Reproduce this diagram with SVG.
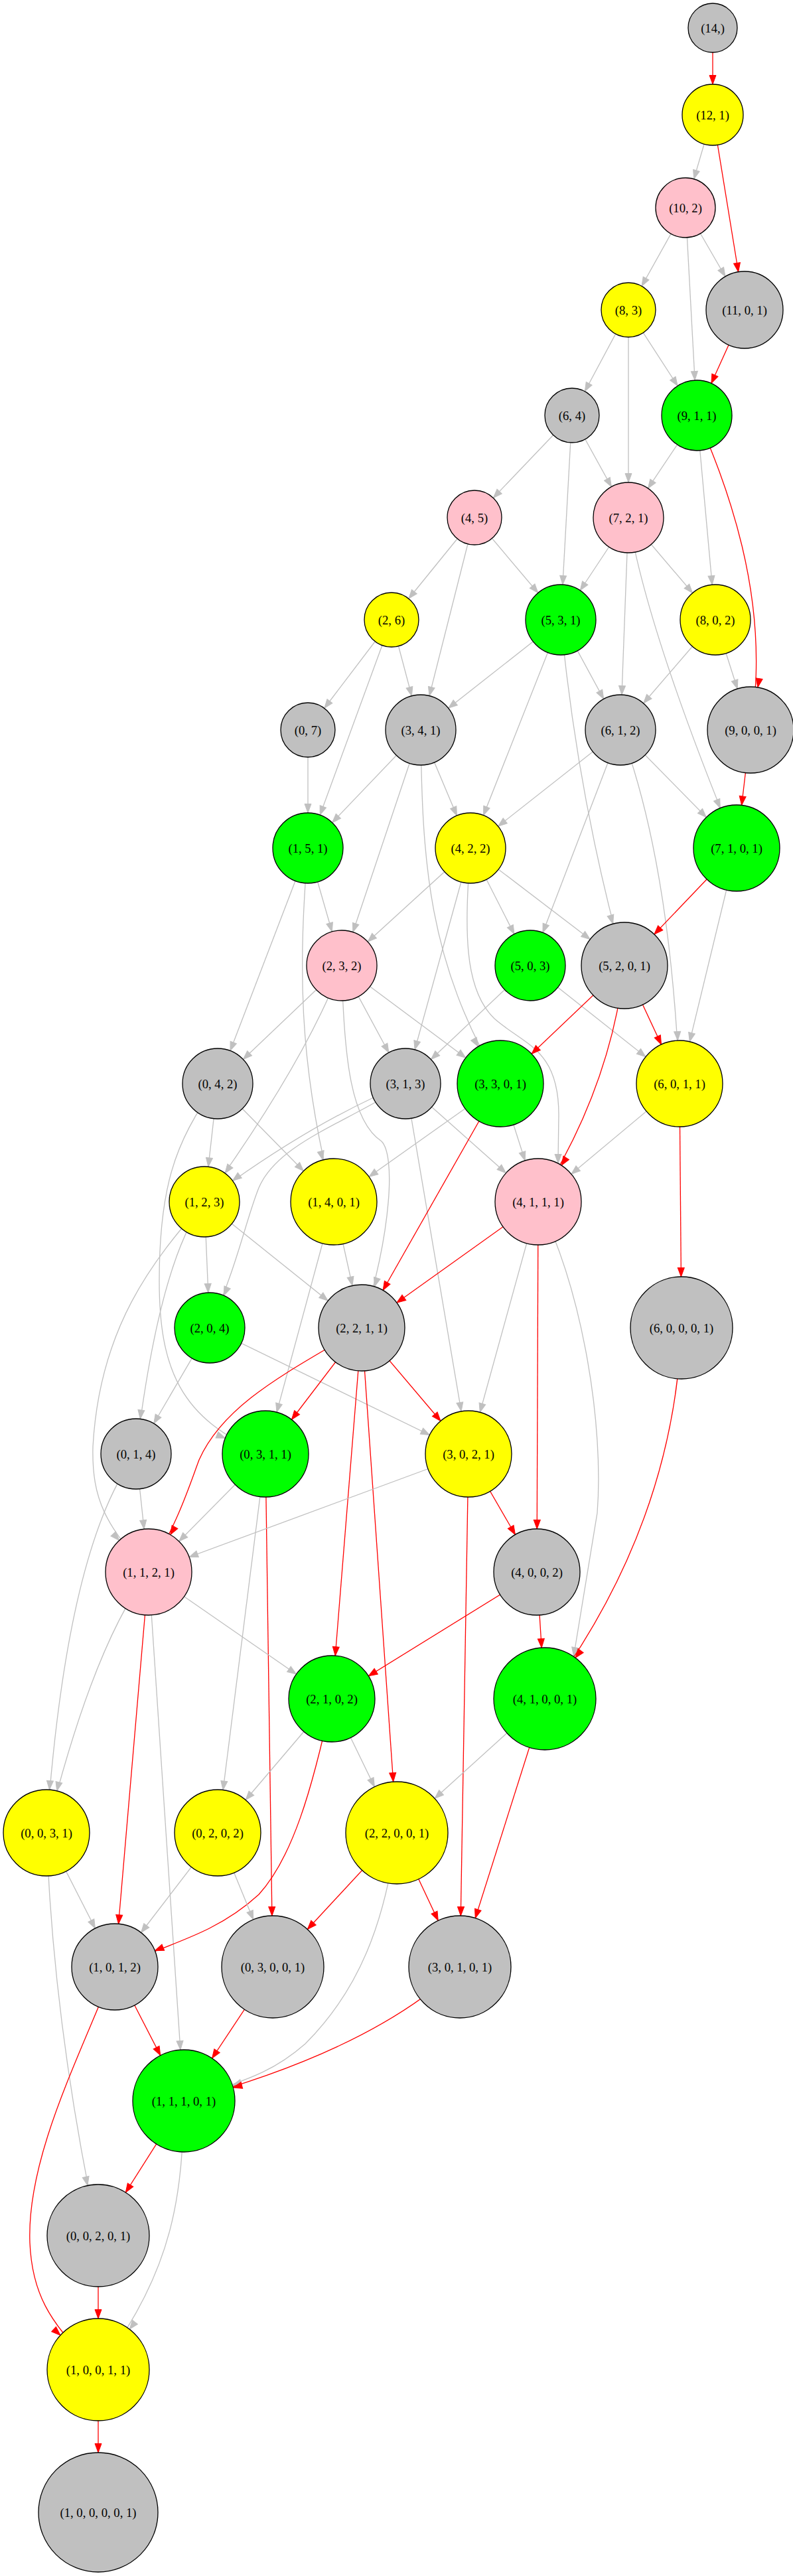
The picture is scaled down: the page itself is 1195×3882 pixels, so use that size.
<svg xmlns="http://www.w3.org/2000/svg" width="1195" height="3882" viewBox="0 0 1195 3882">
<style>
.e{fill:none;stroke-width:1.3}
.g{stroke:#c0c0c0}
.r{stroke:#ff0000}
.ag{fill:#c0c0c0;stroke:#c0c0c0;stroke-width:1}
.ar{fill:#ff0000;stroke:#ff0000;stroke-width:1}
.n{stroke:#000;stroke-width:1.3}
.gy{fill:#c0c0c0}.yl{fill:#ffff00}.pk{fill:#ffc0cb}.gn{fill:#00ff00}
text{font-family:"Liberation Serif","Times New Roman",serif;font-size:18.67px;text-anchor:middle;fill:#000}
</style>
<defs>
<marker id="g41" markerWidth="20" markerHeight="12" refX="55.5" refY="6" orient="auto" markerUnits="userSpaceOnUse"><path class="ag" d="M1,1 L14.5,6 L1,11 Z"/></marker>
<marker id="g45" markerWidth="20" markerHeight="12" refX="59.5" refY="6" orient="auto" markerUnits="userSpaceOnUse"><path class="ag" d="M1,1 L14.5,6 L1,11 Z"/></marker>
<marker id="g53" markerWidth="20" markerHeight="12" refX="67.5" refY="6" orient="auto" markerUnits="userSpaceOnUse"><path class="ag" d="M1,1 L14.5,6 L1,11 Z"/></marker>
<marker id="g58" markerWidth="20" markerHeight="12" refX="72.5" refY="6" orient="auto" markerUnits="userSpaceOnUse"><path class="ag" d="M1,1 L14.5,6 L1,11 Z"/></marker>
<marker id="g65" markerWidth="20" markerHeight="12" refX="79.5" refY="6" orient="auto" markerUnits="userSpaceOnUse"><path class="ag" d="M1,1 L14.5,6 L1,11 Z"/></marker>
<marker id="g77" markerWidth="20" markerHeight="12" refX="91.5" refY="6" orient="auto" markerUnits="userSpaceOnUse"><path class="ag" d="M1,1 L14.5,6 L1,11 Z"/></marker>
<marker id="r46" markerWidth="20" markerHeight="12" refX="60.5" refY="6" orient="auto" markerUnits="userSpaceOnUse"><path class="ar" d="M1,1 L14.5,6 L1,11 Z"/></marker>
<marker id="r53" markerWidth="20" markerHeight="12" refX="67.5" refY="6" orient="auto" markerUnits="userSpaceOnUse"><path class="ar" d="M1,1 L14.5,6 L1,11 Z"/></marker>
<marker id="r58" markerWidth="20" markerHeight="12" refX="72.5" refY="6" orient="auto" markerUnits="userSpaceOnUse"><path class="ar" d="M1,1 L14.5,6 L1,11 Z"/></marker>
<marker id="r65" markerWidth="20" markerHeight="12" refX="79.5" refY="6" orient="auto" markerUnits="userSpaceOnUse"><path class="ar" d="M1,1 L14.5,6 L1,11 Z"/></marker>
<marker id="r77" markerWidth="20" markerHeight="12" refX="91.5" refY="6" orient="auto" markerUnits="userSpaceOnUse"><path class="ar" d="M1,1 L14.5,6 L1,11 Z"/></marker>
<marker id="r90" markerWidth="20" markerHeight="12" refX="104.5" refY="6" orient="auto" markerUnits="userSpaceOnUse"><path class="ar" d="M1,1 L14.5,6 L1,11 Z"/></marker>
</defs>
<rect width="1195" height="3882" fill="#fff"/>
<g id="edges">
<path class="e r" marker-end="url(#r46)" d="M1074,42 L1074,173"/>
<path class="e g" marker-end="url(#g45)" d="M1074,173 L1033,313"/>
<path class="e r" marker-end="url(#r58)" d="M1074,173 L1122,467"/>
<path class="e g" marker-end="url(#g41)" d="M1033,313 L947,467"/>
<path class="e g" marker-end="url(#g53)" d="M1033,313 L1050,626"/>
<path class="e g" marker-end="url(#g58)" d="M1033,313 L1122,467"/>
<path class="e r" marker-end="url(#r53)" d="M1122,467 L1050,626"/>
<path class="e g" marker-end="url(#g41)" d="M947,467 L862,626"/>
<path class="e g" marker-end="url(#g53)" d="M947,467 L947,780"/>
<path class="e g" marker-end="url(#g53)" d="M947,467 L1050,626"/>
<path class="e g" marker-end="url(#g41)" d="M862,626 L715,780"/>
<path class="e g" marker-end="url(#g53)" d="M862,626 L845,934"/>
<path class="e g" marker-end="url(#g53)" d="M862,626 L947,780"/>
<path class="e g" marker-end="url(#g53)" d="M1050,626 L947,780"/>
<path class="e g" marker-end="url(#g53)" d="M1050,626 L1078,934"/>
<path class="e r" marker-end="url(#r65)" d="M1050,626 C1090,720 1165,900 1131,1100"/>
<path class="e g" marker-end="url(#g41)" d="M715,780 L590,934"/>
<path class="e g" marker-end="url(#g53)" d="M715,780 L634,1100"/>
<path class="e g" marker-end="url(#g53)" d="M715,780 L845,934"/>
<path class="e g" marker-end="url(#g53)" d="M947,780 L845,934"/>
<path class="e g" marker-end="url(#g53)" d="M947,780 L935,1100"/>
<path class="e g" marker-end="url(#g65)" d="M947,780 Q975,950 1110,1278"/>
<path class="e g" marker-end="url(#g53)" d="M947,780 L1078,934"/>
<path class="e g" marker-end="url(#g41)" d="M590,934 L464,1100"/>
<path class="e g" marker-end="url(#g53)" d="M590,934 L464,1278"/>
<path class="e g" marker-end="url(#g53)" d="M590,934 L634,1100"/>
<path class="e g" marker-end="url(#g53)" d="M845,934 L634,1100"/>
<path class="e g" marker-end="url(#g53)" d="M845,934 L709,1278"/>
<path class="e g" marker-end="url(#g53)" d="M845,934 L935,1100"/>
<path class="e g" marker-end="url(#g65)" d="M845,934 Q870,1200 941,1455"/>
<path class="e g" marker-end="url(#g53)" d="M1078,934 L935,1100"/>
<path class="e g" marker-end="url(#g65)" d="M1078,934 L1131,1100"/>
<path class="e g" marker-end="url(#g53)" d="M464,1100 L464,1278"/>
<path class="e g" marker-end="url(#g53)" d="M634,1100 L464,1278"/>
<path class="e g" marker-end="url(#g53)" d="M634,1100 L709,1278"/>
<path class="e g" marker-end="url(#g53)" d="M634,1100 L515,1455"/>
<path class="e g" marker-end="url(#g65)" d="M634,1100 C636,1300 645,1450 754,1633"/>
<path class="e g" marker-end="url(#g53)" d="M935,1100 L709,1278"/>
<path class="e g" marker-end="url(#g53)" d="M935,1100 L799,1455"/>
<path class="e g" marker-end="url(#g65)" d="M935,1100 Q1010,1300 1024,1633"/>
<path class="e g" marker-end="url(#g65)" d="M935,1100 L1110,1278"/>
<path class="e r" marker-end="url(#r65)" d="M1131,1100 L1110,1278"/>
<path class="e g" marker-end="url(#g53)" d="M464,1278 L328,1633"/>
<path class="e g" marker-end="url(#g65)" d="M464,1278 C450,1450 448,1600 503,1811"/>
<path class="e g" marker-end="url(#g53)" d="M464,1278 L515,1455"/>
<path class="e g" marker-end="url(#g53)" d="M709,1278 L515,1455"/>
<path class="e g" marker-end="url(#g53)" d="M709,1278 L611,1633"/>
<path class="e g" marker-end="url(#g53)" d="M709,1278 L799,1455"/>
<path class="e g" marker-end="url(#g65)" d="M709,1278 L941,1455"/>
<path class="e g" marker-end="url(#g65)" d="M709,1278 C700,1400 698,1490 745,1535 C790,1575 842,1580 842,1680 L840,1818"/>
<path class="e r" marker-end="url(#r65)" d="M1110,1278 L941,1455"/>
<path class="e g" marker-end="url(#g65)" d="M1110,1278 L1024,1633"/>
<path class="e g" marker-end="url(#g53)" d="M515,1455 L328,1633"/>
<path class="e g" marker-end="url(#g53)" d="M515,1455 Q460,1600 308,1811"/>
<path class="e g" marker-end="url(#g53)" d="M515,1455 L611,1633"/>
<path class="e g" marker-end="url(#g65)" d="M515,1455 L754,1633"/>
<path class="e g" marker-end="url(#g65)" d="M515,1455 C518,1600 530,1690 575,1720 C595,1740 592,1850 545,2001"/>
<path class="e g" marker-end="url(#g53)" d="M799,1455 L611,1633"/>
<path class="e g" marker-end="url(#g65)" d="M799,1455 L1024,1633"/>
<path class="e r" marker-end="url(#r65)" d="M941,1455 L754,1633"/>
<path class="e r" marker-end="url(#r65)" d="M941,1455 L1024,1633"/>
<path class="e r" marker-end="url(#r65)" d="M941,1455 Q920,1640 811,1811"/>
<path class="e g" marker-end="url(#g53)" d="M328,1633 L308,1811"/>
<path class="e g" marker-end="url(#g65)" d="M328,1633 L503,1811"/>
<path class="e g" marker-end="url(#g65)" d="M328,1633 C260,1720 240,1800 240,1930 C240,2060 270,2140 400,2191"/>
<path class="e g" marker-end="url(#g53)" d="M611,1633 Q470,1690 308,1811"/>
<path class="e g" marker-end="url(#g53)" d="M611,1633 C530,1690 420,1720 390,1790 C370,1840 360,1900 316,2001"/>
<path class="e g" marker-end="url(#g65)" d="M611,1633 L706,2191"/>
<path class="e g" marker-end="url(#g65)" d="M611,1633 L811,1811"/>
<path class="e g" marker-end="url(#g65)" d="M754,1633 L503,1811"/>
<path class="e g" marker-end="url(#g65)" d="M754,1633 L811,1811"/>
<path class="e r" marker-end="url(#r65)" d="M754,1633 L545,2001"/>
<path class="e g" marker-end="url(#g65)" d="M1024,1633 L811,1811"/>
<path class="e r" marker-end="url(#r77)" d="M1024,1633 L1027,2001"/>
<path class="e g" marker-end="url(#g53)" d="M308,1811 L316,2001"/>
<path class="e g" marker-end="url(#g53)" d="M308,1811 Q240,1900 205,2191"/>
<path class="e g" marker-end="url(#g65)" d="M308,1811 C230,1900 150,2000 140,2180 C138,2260 160,2300 224,2369"/>
<path class="e g" marker-end="url(#g65)" d="M308,1811 L545,2001"/>
<path class="e g" marker-end="url(#g65)" d="M503,1811 L400,2191"/>
<path class="e g" marker-end="url(#g65)" d="M503,1811 L545,2001"/>
<path class="e g" marker-end="url(#g53)" d="M316,2001 L205,2191"/>
<path class="e g" marker-end="url(#g65)" d="M316,2001 L706,2191"/>
<path class="e r" marker-end="url(#r65)" d="M545,2001 C450,2060 340,2110 300,2200 C285,2240 270,2290 224,2369"/>
<path class="e r" marker-end="url(#r65)" d="M545,2001 L400,2191"/>
<path class="e r" marker-end="url(#r65)" d="M545,2001 L706,2191"/>
<path class="e r" marker-end="url(#r65)" d="M545,2001 L500,2560"/>
<path class="e r" marker-end="url(#r77)" d="M545,2001 L598,2762"/>
<path class="e r" marker-end="url(#r65)" d="M811,1811 L545,2001"/>
<path class="e g" marker-end="url(#g65)" d="M811,1811 L706,2191"/>
<path class="e r" marker-end="url(#r65)" d="M811,1811 L809,2369"/>
<path class="e g" marker-end="url(#g77)" d="M811,1811 C880,1950 910,2150 900,2280 L852,2572"/>
<path class="e r" marker-end="url(#r77)" d="M1027,2001 Q1015,2300 821,2560"/>
<path class="e g" marker-end="url(#g65)" d="M205,2191 Q100,2330 70,2762"/>
<path class="e g" marker-end="url(#g65)" d="M205,2191 L224,2369"/>
<path class="e g" marker-end="url(#g65)" d="M400,2191 L224,2369"/>
<path class="e g" marker-end="url(#g65)" d="M400,2191 L328,2762"/>
<path class="e r" marker-end="url(#r77)" d="M400,2191 L411,2964"/>
<path class="e g" marker-end="url(#g65)" d="M706,2191 L224,2369"/>
<path class="e r" marker-end="url(#r65)" d="M706,2191 L809,2369"/>
<path class="e r" marker-end="url(#r77)" d="M706,2191 L693,2964"/>
<path class="e r" marker-end="url(#r65)" d="M809,2369 L500,2560"/>
<path class="e r" marker-end="url(#r77)" d="M809,2369 L821,2560"/>
<path class="e g" marker-end="url(#g65)" d="M224,2369 L500,2560"/>
<path class="e r" marker-end="url(#r65)" d="M224,2369 L173,2964"/>
<path class="e g" marker-end="url(#g77)" d="M224,2369 L277,3166"/>
<path class="e g" marker-end="url(#g65)" d="M224,2369 Q140,2480 70,2762"/>
<path class="e g" marker-end="url(#g65)" d="M500,2560 L328,2762"/>
<path class="e g" marker-end="url(#g77)" d="M500,2560 L598,2762"/>
<path class="e r" marker-end="url(#r65)" d="M500,2560 C470,2700 440,2800 390,2855 C330,2910 270,2925 173,2964"/>
<path class="e g" marker-end="url(#g77)" d="M821,2560 L598,2762"/>
<path class="e r" marker-end="url(#r77)" d="M821,2560 L693,2964"/>
<path class="e g" marker-end="url(#g65)" d="M70,2762 L173,2964"/>
<path class="e g" marker-end="url(#g77)" d="M70,2762 Q80,3050 148,3369"/>
<path class="e g" marker-end="url(#g65)" d="M328,2762 L173,2964"/>
<path class="e g" marker-end="url(#g77)" d="M328,2762 L411,2964"/>
<path class="e r" marker-end="url(#r77)" d="M598,2762 L411,2964"/>
<path class="e r" marker-end="url(#r77)" d="M598,2762 L693,2964"/>
<path class="e g" marker-end="url(#g77)" d="M598,2762 C580,2900 540,3000 460,3080 C420,3115 390,3130 277,3166"/>
<path class="e r" marker-end="url(#r77)" d="M173,2964 L277,3166"/>
<path class="e r" marker-end="url(#r77)" d="M173,2964 C120,3100 40,3250 45,3380 C48,3450 70,3500 148,3571"/>
<path class="e r" marker-end="url(#r77)" d="M411,2964 L277,3166"/>
<path class="e r" marker-end="url(#r77)" d="M693,2964 Q560,3090 277,3166"/>
<path class="e r" marker-end="url(#r77)" d="M277,3166 L148,3369"/>
<path class="e g" marker-end="url(#g77)" d="M277,3166 C275,3300 265,3420 148,3571"/>
<path class="e r" marker-end="url(#r77)" d="M148,3369 L148,3571"/>
<path class="e r" marker-end="url(#r90)" d="M148,3571 L148,3786"/>
</g>
<g id="n_14"><circle class="n gy" cx="1074" cy="42" r="37"/><text x="1074" y="48.5">(14,)</text></g>
<g id="n_12_1"><circle class="n yl" cx="1074" cy="173" r="46"/><text x="1074" y="179.5">(12, 1)</text></g>
<g id="n_10_2"><circle class="n pk" cx="1033" cy="313" r="45"/><text x="1033" y="319.5">(10, 2)</text></g>
<g id="n_8_3"><circle class="n yl" cx="947" cy="467" r="41"/><text x="947" y="473.5">(8, 3)</text></g>
<g id="n_11_0_1"><circle class="n gy" cx="1122" cy="467" r="58"/><text x="1122" y="473.5">(11, 0, 1)</text></g>
<g id="n_6_4"><circle class="n gy" cx="862" cy="626" r="41"/><text x="862" y="632.5">(6, 4)</text></g>
<g id="n_9_1_1"><circle class="n gn" cx="1050" cy="626" r="53"/><text x="1050" y="632.5">(9, 1, 1)</text></g>
<g id="n_4_5"><circle class="n pk" cx="715" cy="780" r="41"/><text x="715" y="786.5">(4, 5)</text></g>
<g id="n_7_2_1"><circle class="n pk" cx="947" cy="780" r="53"/><text x="947" y="786.5">(7, 2, 1)</text></g>
<g id="n_2_6"><circle class="n yl" cx="590" cy="934" r="41"/><text x="590" y="940.5">(2, 6)</text></g>
<g id="n_5_3_1"><circle class="n gn" cx="845" cy="934" r="53"/><text x="845" y="940.5">(5, 3, 1)</text></g>
<g id="n_8_0_2"><circle class="n yl" cx="1078" cy="934" r="53"/><text x="1078" y="940.5">(8, 0, 2)</text></g>
<g id="n_0_7"><circle class="n gy" cx="464" cy="1100" r="41"/><text x="464" y="1106.5">(0, 7)</text></g>
<g id="n_3_4_1"><circle class="n gy" cx="634" cy="1100" r="53"/><text x="634" y="1106.5">(3, 4, 1)</text></g>
<g id="n_6_1_2"><circle class="n gy" cx="935" cy="1100" r="53"/><text x="935" y="1106.5">(6, 1, 2)</text></g>
<g id="n_9_0_0_1"><circle class="n gy" cx="1131" cy="1100" r="65"/><text x="1131" y="1106.5">(9, 0, 0, 1)</text></g>
<g id="n_1_5_1"><circle class="n gn" cx="464" cy="1278" r="53"/><text x="464" y="1284.5">(1, 5, 1)</text></g>
<g id="n_4_2_2"><circle class="n yl" cx="709" cy="1278" r="53"/><text x="709" y="1284.5">(4, 2, 2)</text></g>
<g id="n_7_1_0_1"><circle class="n gn" cx="1110" cy="1278" r="65"/><text x="1110" y="1284.5">(7, 1, 0, 1)</text></g>
<g id="n_2_3_2"><circle class="n pk" cx="515" cy="1455" r="53"/><text x="515" y="1461.5">(2, 3, 2)</text></g>
<g id="n_5_0_3"><circle class="n gn" cx="799" cy="1455" r="53"/><text x="799" y="1461.5">(5, 0, 3)</text></g>
<g id="n_5_2_0_1"><circle class="n gy" cx="941" cy="1455" r="65"/><text x="941" y="1461.5">(5, 2, 0, 1)</text></g>
<g id="n_0_4_2"><circle class="n gy" cx="328" cy="1633" r="53"/><text x="328" y="1639.5">(0, 4, 2)</text></g>
<g id="n_3_1_3"><circle class="n gy" cx="611" cy="1633" r="53"/><text x="611" y="1639.5">(3, 1, 3)</text></g>
<g id="n_3_3_0_1"><circle class="n gn" cx="754" cy="1633" r="65"/><text x="754" y="1639.5">(3, 3, 0, 1)</text></g>
<g id="n_6_0_1_1"><circle class="n yl" cx="1024" cy="1633" r="65"/><text x="1024" y="1639.5">(6, 0, 1, 1)</text></g>
<g id="n_1_2_3"><circle class="n yl" cx="308" cy="1811" r="53"/><text x="308" y="1817.5">(1, 2, 3)</text></g>
<g id="n_1_4_0_1"><circle class="n yl" cx="503" cy="1811" r="65"/><text x="503" y="1817.5">(1, 4, 0, 1)</text></g>
<g id="n_4_1_1_1"><circle class="n pk" cx="811" cy="1811" r="65"/><text x="811" y="1817.5">(4, 1, 1, 1)</text></g>
<g id="n_6_0_0_0_1"><circle class="n gy" cx="1027" cy="2001" r="77"/><text x="1027" y="2007.5">(6, 0, 0, 0, 1)</text></g>
<g id="n_2_0_4"><circle class="n gn" cx="316" cy="2001" r="53"/><text x="316" y="2007.5">(2, 0, 4)</text></g>
<g id="n_2_2_1_1"><circle class="n gy" cx="545" cy="2001" r="65"/><text x="545" y="2007.5">(2, 2, 1, 1)</text></g>
<g id="n_0_1_4"><circle class="n gy" cx="205" cy="2191" r="53"/><text x="205" y="2197.5">(0, 1, 4)</text></g>
<g id="n_0_3_1_1"><circle class="n gn" cx="400" cy="2191" r="65"/><text x="400" y="2197.5">(0, 3, 1, 1)</text></g>
<g id="n_3_0_2_1"><circle class="n yl" cx="706" cy="2191" r="65"/><text x="706" y="2197.5">(3, 0, 2, 1)</text></g>
<g id="n_1_1_2_1"><circle class="n pk" cx="224" cy="2369" r="65"/><text x="224" y="2375.5">(1, 1, 2, 1)</text></g>
<g id="n_4_0_0_2"><circle class="n gy" cx="809" cy="2369" r="65"/><text x="809" y="2375.5">(4, 0, 0, 2)</text></g>
<g id="n_2_1_0_2"><circle class="n gn" cx="500" cy="2560" r="65"/><text x="500" y="2566.5">(2, 1, 0, 2)</text></g>
<g id="n_4_1_0_0_1"><circle class="n gn" cx="821" cy="2560" r="77"/><text x="821" y="2566.5">(4, 1, 0, 0, 1)</text></g>
<g id="n_0_0_3_1"><circle class="n yl" cx="70" cy="2762" r="65"/><text x="70" y="2768.5">(0, 0, 3, 1)</text></g>
<g id="n_0_2_0_2"><circle class="n yl" cx="328" cy="2762" r="65"/><text x="328" y="2768.5">(0, 2, 0, 2)</text></g>
<g id="n_2_2_0_0_1"><circle class="n yl" cx="598" cy="2762" r="77"/><text x="598" y="2768.5">(2, 2, 0, 0, 1)</text></g>
<g id="n_1_0_1_2"><circle class="n gy" cx="173" cy="2964" r="65"/><text x="173" y="2970.5">(1, 0, 1, 2)</text></g>
<g id="n_0_3_0_0_1"><circle class="n gy" cx="411" cy="2964" r="77"/><text x="411" y="2970.5">(0, 3, 0, 0, 1)</text></g>
<g id="n_3_0_1_0_1"><circle class="n gy" cx="693" cy="2964" r="77"/><text x="693" y="2970.5">(3, 0, 1, 0, 1)</text></g>
<g id="n_1_1_1_0_1"><circle class="n gn" cx="277" cy="3166" r="77"/><text x="277" y="3172.5">(1, 1, 1, 0, 1)</text></g>
<g id="n_0_0_2_0_1"><circle class="n gy" cx="148" cy="3369" r="77"/><text x="148" y="3375.5">(0, 0, 2, 0, 1)</text></g>
<g id="n_1_0_0_1_1"><circle class="n yl" cx="148" cy="3571" r="77"/><text x="148" y="3577.5">(1, 0, 0, 1, 1)</text></g>
<g id="n_1_0_0_0_0_1"><circle class="n gy" cx="148" cy="3786" r="90"/><text x="148" y="3792.5">(1, 0, 0, 0, 0, 1)</text></g>
</svg>
